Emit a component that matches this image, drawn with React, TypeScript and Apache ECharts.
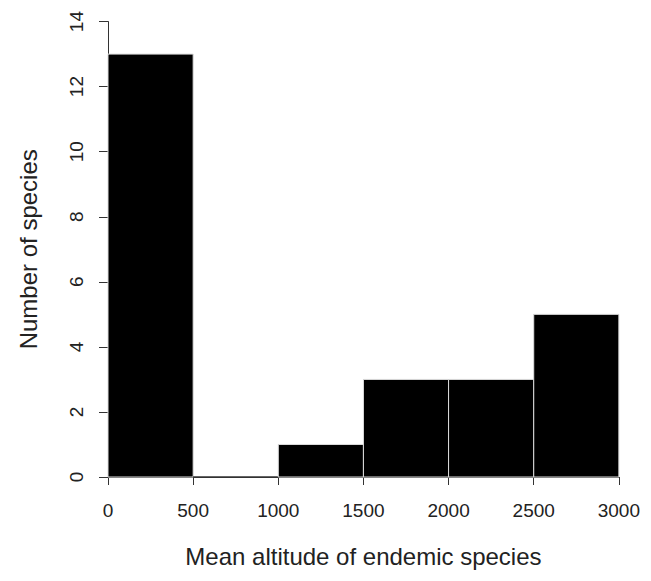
import React, { useEffect, useRef } from "react";
import * as echarts from "echarts";

const binStarts = [0, 500, 1000, 1500, 2000, 2500];
const binEnds = [500, 1000, 1500, 2000, 2500, 3000];
const counts = [13, 0, 1, 3, 3, 5];
const xTicks = [0, 500, 1000, 1500, 2000, 2500, 3000];
const yTicks = [0, 2, 4, 6, 8, 10, 12, 14];

export default function App() {
  const ref = useRef<HTMLDivElement>(null);
  useEffect(() => {
    if (!ref.current) return;
    const chart = echarts.init(ref.current, null, { renderer: "svg" });
    const data = binStarts.map((s, i) => [s, binEnds[i], counts[i]]);
    chart.setOption({
      animation: false,
      backgroundColor: "#fff",
      grid: { left: 92, right: 17, top: 13, bottom: 92, containLabel: false },
      xAxis: {
        type: "value",
        min: xTicks[0],
        max: xTicks[xTicks.length - 1],
        interval: 500,
        name: "Mean altitude of endemic species",
        nameLocation: "middle",
        nameGap: 67,
        nameTextStyle: { fontFamily: "Liberation Sans", fontSize: 24, color: "#222" },
        axisLine: { show: true, lineStyle: { color: "#333", width: 1 } },
        axisTick: { show: true, length: 8, lineStyle: { color: "#333" } },
        axisLabel: {
          margin: 24,
          fontFamily: "Liberation Sans",
          fontSize: 19,
          color: "#222",
          formatter: (v: number) => String(v),
        },
        splitLine: { show: false },
      },
      yAxis: {
        type: "value",
        min: yTicks[0],
        max: yTicks[yTicks.length - 1],
        interval: 2,
        name: "Number of species",
        nameLocation: "middle",
        nameRotate: 90,
        nameGap: 68,
        nameTextStyle: { fontFamily: "Liberation Sans", fontSize: 24, color: "#222" },
        axisLine: { show: true, lineStyle: { color: "#333", width: 1 } },
        axisTick: { show: true, length: 9, lineStyle: { color: "#333" } },
        axisLabel: { rotate: 90, margin: 22, fontFamily: "Liberation Sans", fontSize: 19, color: "#222" },
        splitLine: { show: false },
      },
      series: [
        {
          type: "custom",
          data,
          encode: { x: [0, 1], y: 2 },
          renderItem: (params: any, api: any) => {
            const s = api.value(0);
            const e = api.value(1);
            const v = api.value(2);
            const p0 = api.coord([s, 0]);
            const p1 = api.coord([e, v]);
            return {
              type: "rect",
              shape: { x: p0[0], y: p1[1], width: p1[0] - p0[0], height: p0[1] - p1[1] },
              style: { fill: "#000", stroke: v > 0 ? "#ddd" : "#333", lineWidth: 1 },
            };
          },
        },
      ],
    });
    return () => chart.dispose();
  }, []);
  return <div ref={ref} style={{ width: 635, height: 565 }} />;
}
